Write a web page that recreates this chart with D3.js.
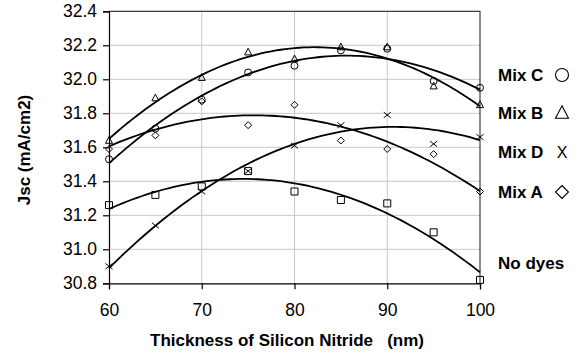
<!DOCTYPE html>
<html>
<head>
<meta charset="utf-8">
<script src="https://d3js.org/d3.v7.min.js"></script>
<style>
  body { margin: 0; background: #fff; }
  text { font-family: Arial, "Liberation Sans", sans-serif; }
</style>
</head>
<body>
<svg width="580" height="354"></svg>
<script>
// thickness values (nm)
var thickness = [60, 65, 70, 75, 80, 85, 90, 95, 100];

// Jsc values
var mixC   = [31.53, 31.71, 31.88, 32.04, 32.08, 32.17, 32.18, 31.99, 31.95];
var mixB   = [31.64, 31.89, 32.01, 32.16, 32.12, 32.19, 32.19, 31.96, 31.85];
var mixD   = [30.90, 31.14, 31.34, 31.46, 31.61, 31.73, 31.79, 31.62, 31.66];
var mixA   = [31.59, 31.67, 31.87, 31.73, 31.85, 31.64, 31.59, 31.56, 31.34];
var noDyes = [31.26, 31.32, 31.37, 31.46, 31.34, 31.29, 31.27, 31.10, 30.82];

var seriesNames = ["Mix C", "Mix B", "Mix D", "Mix A", "No dyes"];
var seriesVals = [mixC, mixB, mixD, mixA, noDyes];
var seriesSymbols = ["circle", "triangle", "cross", "diamond", "square"];

var yTicks = [30.8, 31.0, 31.2, 31.4, 31.6, 31.8, 32.0, 32.2, 32.4];
var xTicks = [60, 70, 80, 90, 100];

var svg = d3.select("svg");

var x = d3.scaleLinear().domain([60, 100]).range([109, 480]);
var y = d3.scaleLinear().domain([30.8, 32.4]).range([283.3, 11.3]);

// gridlines
svg.append("g")
    .selectAll("line")
    .data(yTicks.slice(1))
    .enter().append("line")
    .attr("x1", x(60)).attr("x2", x(100))
    .attr("y1", function(d) { return y(d); })
    .attr("y2", function(d) { return y(d); })
    .attr("stroke", "#c8c8c8")
    .attr("stroke-width", 1);

svg.append("g")
    .selectAll("line")
    .data([70, 80, 90])
    .enter().append("line")
    .attr("y1", y(30.8)).attr("y2", y(32.4))
    .attr("x1", function(d) { return x(d); })
    .attr("x2", function(d) { return x(d); })
    .attr("stroke", "#c8c8c8")
    .attr("stroke-width", 1);

// frame top / right
svg.append("path")
    .attr("d", "M" + x(60) + "," + y(32.4) + "H" + x(100) + "V" + y(30.8))
    .attr("fill", "none")
    .attr("stroke", "#404040")
    .attr("stroke-width", 1.2);

// axes
var yAxis = svg.append("g")
    .attr("transform", "translate(" + x(60) + ",0)")
    .call(d3.axisLeft(y).tickValues(yTicks).tickFormat(d3.format(".1f")).tickSizeOuter(0).tickSize(6).tickPadding(6));

var xAxis = svg.append("g")
    .attr("transform", "translate(0," + y(30.8) + ")")
    .call(d3.axisBottom(x).tickValues(xTicks).tickSizeOuter(0).tickSize(6).tickPadding(14));

[yAxis, xAxis].forEach(function(a) {
  a.selectAll("path, line").attr("stroke", "#000").attr("stroke-width", 1.2);
  a.selectAll("text").attr("font-size", 17.5).attr("fill", "#000")
   .attr("font-family", "Arial, 'Liberation Sans', sans-serif");
});

// quadratic least-squares trend line
function quadFit(xs, ys) {
  var n = xs.length, s = [0, 0, 0, 0, 0], t = [0, 0, 0];
  xs.forEach(function(xv, i) {
    var u = xv - 80;
    for (var k = 0; k < 5; k++) s[k] += Math.pow(u, k);
    for (var k = 0; k < 3; k++) t[k] += ys[i] * Math.pow(u, k);
  });
  var M = [[s[0], s[1], s[2], t[0]], [s[1], s[2], s[3], t[1]], [s[2], s[3], s[4], t[2]]];
  for (var i = 0; i < 3; i++) {
    for (var j = i + 1; j < 3; j++) {
      var f = M[j][i] / M[i][i];
      for (var k = i; k < 4; k++) M[j][k] -= f * M[i][k];
    }
  }
  var c = [0, 0, 0];
  for (var i = 2; i >= 0; i--) {
    var v = M[i][3];
    for (var k = i + 1; k < 3; k++) v -= M[i][k] * c[k];
    c[i] = v / M[i][i];
  }
  return function(xv) { var u = xv - 80; return c[0] + c[1] * u + c[2] * u * u; };
}

var line = d3.line()
    .x(function(d) { return x(d[0]); })
    .y(function(d) { return y(d[1]); });

seriesVals.forEach(function(vals) {
  var f = quadFit(thickness, vals);
  var pts = d3.range(60, 100.01, 0.5).map(function(t) { return [t, f(t)]; });
  svg.append("path")
      .datum(pts)
      .attr("d", line)
      .attr("fill", "none")
      .attr("stroke", "#000")
      .attr("stroke-width", 1.8);
});

// markers
function markerPath(type, size) {
  var h = size / 2;
  if (type == "circle") return d3.symbol(d3.symbolCircle, Math.PI * h * h)();
  if (type == "square") return "M" + -h + "," + -h + "H" + h + "V" + h + "H" + -h + "Z";
  if (type == "diamond") return "M0," + -h + "L" + h + ",0L0," + h + "L" + -h + ",0Z";
  if (type == "triangle") return "M0," + (-h * 1.1) + "L" + h + "," + (h * 0.8) + "L" + -h + "," + (h * 0.8) + "Z";
  if (type == "cross") return "M" + -h + "," + (-h * 0.8) + "L" + h + "," + (h * 0.8) + "M" + h + "," + (-h * 0.8) + "L" + -h + "," + (h * 0.8);
}

seriesVals.forEach(function(vals, si) {
  svg.append("g")
    .selectAll("path")
    .data(vals)
    .enter().append("path")
    .attr("transform", function(d, i) { return "translate(" + x(thickness[i]) + "," + y(d) + ")"; })
    .attr("d", markerPath(seriesSymbols[si], 7))
    .attr("fill", "none")
    .attr("stroke", "#000")
    .attr("stroke-width", 1);
});

// legend labels on the right
var legendY = [81, 119, 158, 198, 269];
seriesNames.forEach(function(name, i) {
  svg.append("text")
      .attr("x", 498)
      .attr("y", legendY[i])
      .attr("font-size", 17)
      .attr("font-weight", "bold")
      .attr("fill", "#000")
      .text(name);
  if (seriesSymbols[i] == "cross") {
    svg.append("text")
      .attr("x", 562)
      .attr("y", legendY[i])
      .attr("text-anchor", "middle")
      .attr("font-size", 16)
      .attr("fill", "#000")
      .text("X");
  } else if (seriesSymbols[i] != "square") {
    svg.append("path")
      .attr("transform", "translate(562," + (legendY[i] - 6) + ")")
      .attr("d", markerPath(seriesSymbols[i], 13))
      .attr("fill", "none")
      .attr("stroke", "#000")
      .attr("stroke-width", 1.1);
  }
});

// axis titles
svg.append("text")
    .attr("transform", "translate(30," + 150 + ") rotate(-90)")
    .attr("text-anchor", "middle")
    .attr("font-size", 17)
    .attr("font-weight", "bold")
    .text("Jsc (mA/cm2)");

svg.append("text")
    .attr("x", 287)
    .attr("y", 346)
    .attr("text-anchor", "middle")
    .attr("font-size", 17)
    .attr("font-weight", "bold")
    .attr("xml:space", "preserve")
    .style("white-space", "pre")
    .text("Thickness of Silicon Nitride   (nm)");
</script>
</body>
</html>
